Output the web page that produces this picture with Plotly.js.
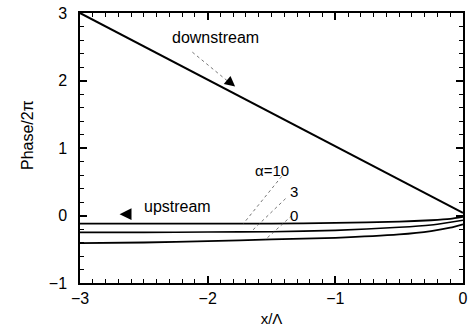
<!DOCTYPE html>
<html>
<head>
<meta charset="utf-8">
<script src="https://cdn.plot.ly/plotly-3.0.1.min.js"></script>
<style>html,body{margin:0;padding:0;background:#fff;}#chart{width:468px;height:328px;}</style>
</head>
<body>
<div id="chart"></div>
<script>
// x positions (x/Λ)
const xDown = [-3, 0];
const phaseDown = [3.0, 0.04];

const xUp = [-3, -2.5, -2, -1.5, -1, -0.5, -0.25, -0.1, 0];
const alpha10 = [-0.12, -0.12, -0.12, -0.12, -0.11, -0.09, -0.07, -0.05, -0.02];
const alpha3 = [-0.25, -0.25, -0.245, -0.24, -0.22, -0.175, -0.14, -0.10, -0.07];
const alpha0 = [-0.41, -0.40, -0.38, -0.355, -0.33, -0.28, -0.23, -0.18, -0.13];

const FONT = 'Liberation Sans, Arial, Helvetica, sans-serif';

const line = (x, y, w) => ({x: x, y: y, type: 'scatter', mode: 'lines',
  line: {color: '#000', width: w, shape: 'spline', smoothing: 0.6}, hoverinfo: 'skip', showlegend: false});

const data = [
  line(xDown, phaseDown, 2),
  line(xUp, alpha10, 1.8),
  line(xUp, alpha3, 1.6),
  line(xUp, alpha0, 1.8)
];

const dotted = (x0, y0, x1, y1) => ({type: 'line', xref: 'x', yref: 'y', x0: x0, y0: y0, x1: x1, y1: y1,
  line: {color: '#555', width: 0.8, dash: 'dot'}});

const layout = {
  width: 468, height: 328,
  margin: {l: 80, r: 5, t: 13, b: 45},
  font: {family: FONT, color: '#000'},
  xaxis: {
    range: [-3, 0], dtick: 1, tick0: -3,
    showgrid: false, zeroline: false,
    showline: true, mirror: 'allticks', linecolor: '#000', linewidth: 1.5,
    ticks: 'inside', ticklen: 7, tickwidth: 1.5, tickcolor: '#000',
    tickfont: {family: FONT, size: 16, color: '#000'},
    minor: {ticks: 'inside', ticklen: 4, tickwidth: 1.2, tickcolor: '#000', dtick: 0.1},
    title: {text: 'x/Λ', font: {family: FONT, size: 15, color: '#000'}, standoff: 8}
  },
  yaxis: {
    range: [-1, 3], dtick: 1, tick0: -1,
    showgrid: false, zeroline: false,
    showline: true, mirror: 'allticks', linecolor: '#000', linewidth: 1.5,
    ticks: 'inside', ticklen: 7, tickwidth: 1.5, tickcolor: '#000',
    tickfont: {family: FONT, size: 16, color: '#000'}, ticksuffix: '\u2002',
    minor: {ticks: 'inside', ticklen: 4, tickwidth: 1.2, tickcolor: '#000', dtick: 0.2}
  },
  shapes: [
    dotted(-2.12, 2.42, -1.83, 1.97),
    dotted(-1.42, 0.58, -1.72, -0.12),
    dotted(-1.39, 0.25, -1.66, -0.24),
    dotted(-1.34, 0.0, -1.55, -0.36)
  ],
  annotations: [
    {x: -0.1645, y: 0.55, xref: 'paper', yref: 'paper', text: 'Phase/2π', textangle: -90,
     showarrow: false, font: {family: FONT, size: 16, color: '#000'}},
    {x: -1.935, y: 2.63, xref: 'x', yref: 'y', text: 'downstream', showarrow: false,
     font: {family: FONT, size: 16, color: '#000'}},
    {x: -1.785, y: 1.91, xref: 'x', yref: 'y', text: '', showarrow: true, arrowhead: 2,
     arrowsize: 1.6, arrowwidth: 1.3, arrowcolor: '#000', ax: -6, ay: -5},
    {x: -2.24, y: 0.14, xref: 'x', yref: 'y', text: 'upstream', showarrow: false,
     font: {family: FONT, size: 16, color: '#000'}},
    {x: -2.69, y: 0.02, xref: 'x', yref: 'y', text: '', showarrow: true, arrowhead: 2,
     arrowsize: 1.7, arrowwidth: 1.4, arrowcolor: '#000', ax: 8, ay: 0},
    {x: -1.50, y: 0.67, xref: 'x', yref: 'y', text: 'α=10', showarrow: false,
     font: {family: FONT, size: 15, color: '#000'}},
    {x: -1.32, y: 0.36, xref: 'x', yref: 'y', text: '3', showarrow: false,
     font: {family: FONT, size: 15, color: '#000'}},
    {x: -1.32, y: 0.0, xref: 'x', yref: 'y', text: '0', showarrow: false,
     font: {family: FONT, size: 15, color: '#000'}}
  ]
};

Plotly.newPlot('chart', data, layout, {displayModeBar: false});
</script>
</body>
</html>
